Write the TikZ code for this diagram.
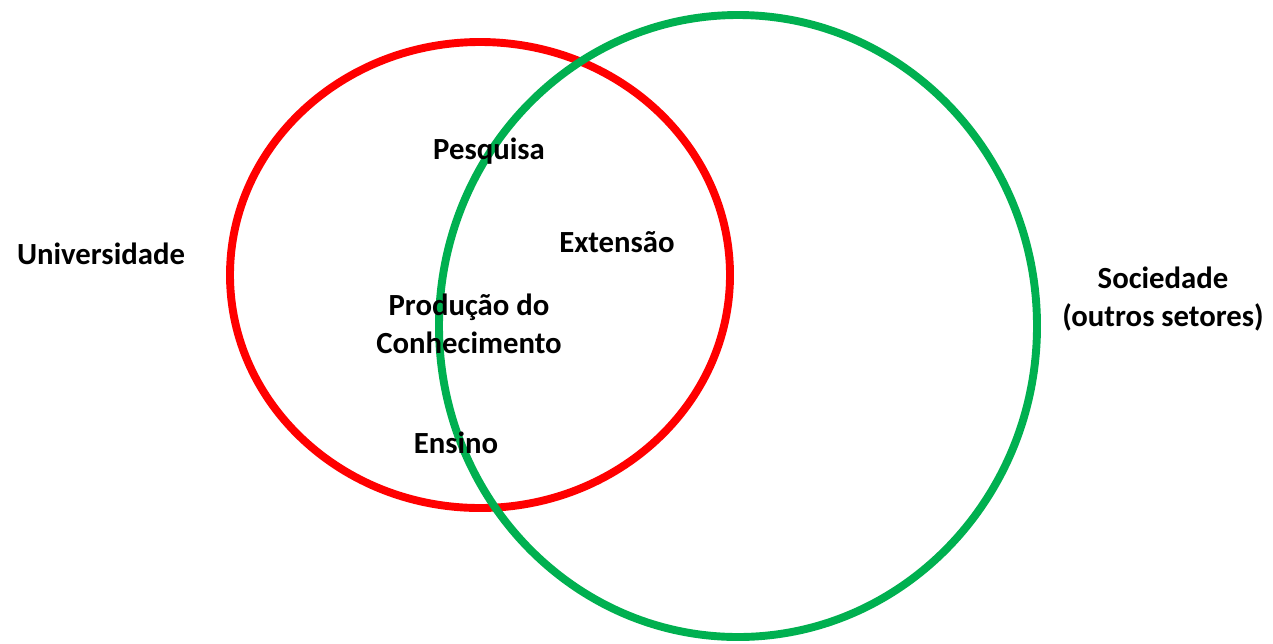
\documentclass[tikz,border=0pt]{standalone}
\usepackage{fontspec}
\setmainfont{Carlito}
\usepackage{tikz}
\usetikzlibrary{positioning}
\definecolor{myred}{RGB}{255,0,0}
\definecolor{mygreen}{RGB}{0,176,80}

\begin{document}
\begin{tikzpicture}[x=0.02cm,y=-0.02cm,
    every node/.style={font=\fontsize{17.5}{21.5}\selectfont\bfseries,align=center,inner sep=0pt},
    unisnode/.style={draw=myred,line width=4.5pt},
    socnode/.style={draw=mygreen,line width=4.5pt}
  ]
  \useasboundingbox (0,0) rectangle (1273,643);

  % the sets
  \draw[unisnode] (480,275) ellipse [x radius=250,y radius=233];
  \draw[socnode] (738,326) ellipse [x radius=299,y radius=311];

  % the labels inside
  \node (pesq) at (489,151) {Pesquisa};
  \node (ext) at (617,242) {Extensão};
  \node (prod) at (469,324) {Produção do\\Conhecimento};
  \node (ens) at (456,443) {Ensino};

  % the labels outside
  \node (univ) at (101,254) {Universidade};
  \node (soc) at (1163,299) {Sociedade\\(outros setores)};
\end{tikzpicture}
\end{document}
